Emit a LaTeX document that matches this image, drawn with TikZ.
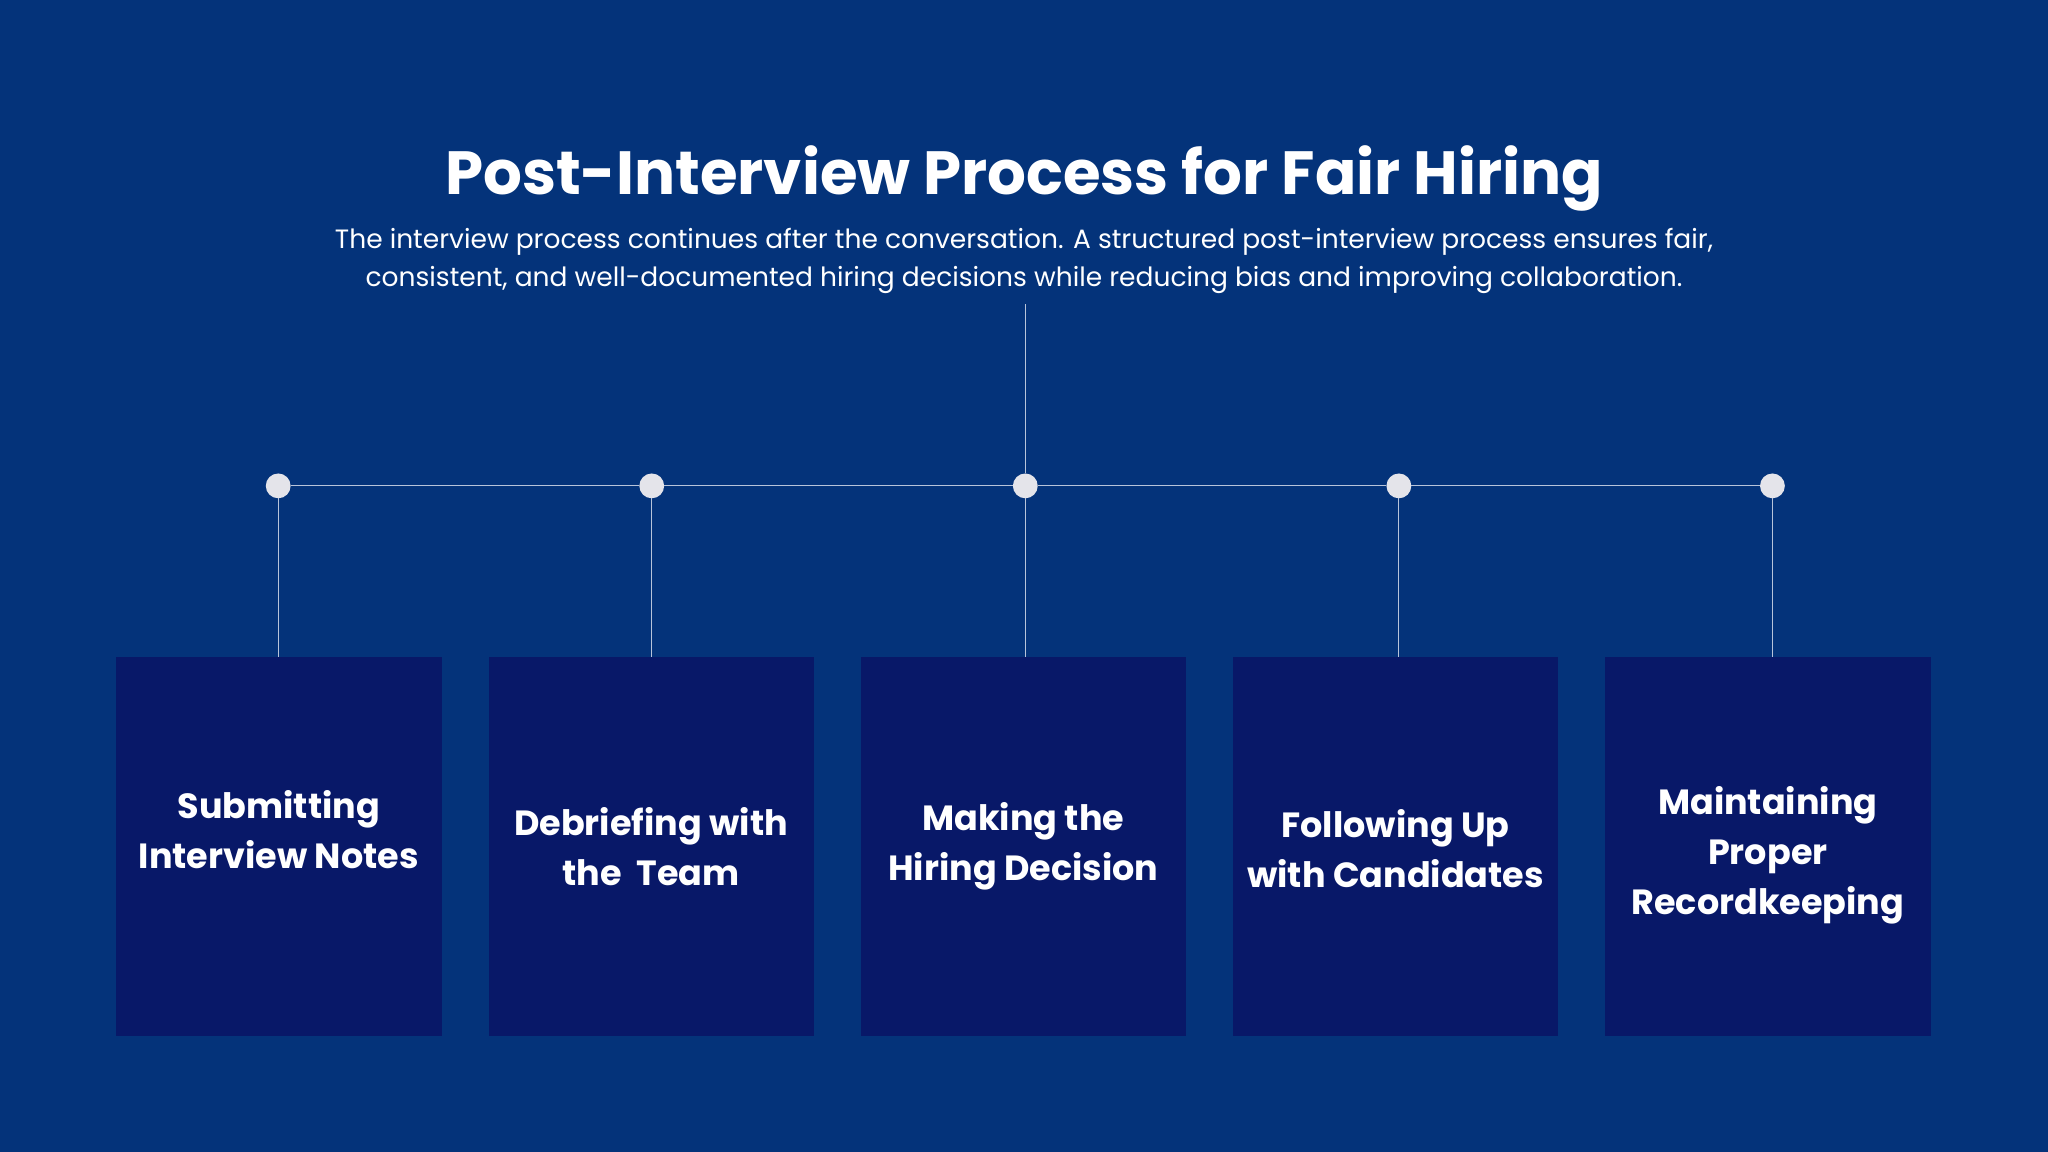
\documentclass[tikz,border=0pt]{standalone}
\usepackage{fontspec}
\setmainfont{Poppins}
\definecolor{bg}{HTML}{04337A}
\definecolor{boxc}{HTML}{081868}
\definecolor{dotc}{HTML}{E4E4EA}
\definecolor{linec}{HTML}{B8C4DA}
\begin{document}
\begin{tikzpicture}[x=1.3061pt,y=-1.3061pt,
  card/.style={fill=boxc,draw=none,minimum width=249*1.3061pt,minimum height=290*1.3061pt,anchor=north west,inner sep=0},
  cardtxt/.style={text=white,font=\bfseries\fontsize{35}{50}\selectfont,align=center},
  dot/.style={circle,fill=dotc,minimum size=19*1.3061pt,inner sep=0},
  conn/.style={draw=linec,line width=1pt}]
\fill[bg] (0,0) rectangle (1568,882);
\useasboundingbox (0,0) rectangle (1568,882);
\node[text=white,font=\bfseries\fontsize{61}{70}\selectfont] (title) at (784,137) {Post-Interview Process for Fair Hiring};
\node[text=white,font=\fontsize{26.5}{38}\selectfont,align=center] (sub) at (784,200) {The interview process continues after the conversation. A structured post-interview process ensures fair,\\consistent, and well-documented hiring decisions while reducing bias and improving collaboration.};
\coordinate (top) at (785,233);
\foreach \i/\x in {1/213,2/499,3/785,4/1071,5/1357}{
  \node[dot] (d\i) at (\x,372) {};
}
\foreach \i/\x in {1/89,2/374,3/659,4/944,5/1229}{
  \node[card] (b\i) at (\x,503) {};
}
\draw[conn] (top) -- (d3);
\draw[conn] (d1) -- (d2) -- (d3) -- (d4) -- (d5);
\foreach \i in {1,...,5}{ \draw[conn] (d\i) -- (d\i |- b\i.north); }
\node[cardtxt] (t1) at (213.5,635) {Submitting\\Interview Notes};
\node[cardtxt] (t2) at (498.5,648) {Debriefing with\\the\ \ Team};
\node[cardtxt] (t3) at (783.5,648) {Making the\\Hiring Decision};
\node[cardtxt] (t4) at (1068.5,650) {Following Up\\with Candidates};
\node[cardtxt] (t5) at (1353.5,655) {Maintaining\\Proper\\Recordkeeping};
\end{tikzpicture}
\end{document}
